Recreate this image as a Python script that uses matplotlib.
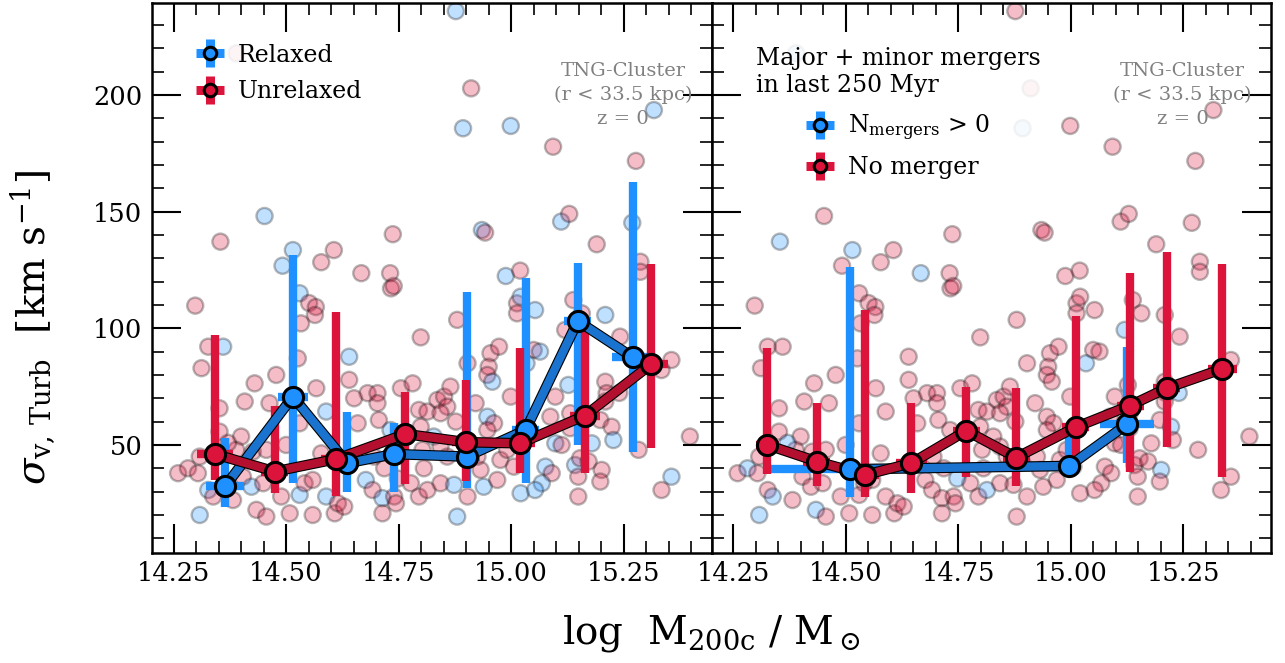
import numpy as np
import matplotlib
matplotlib.use('Agg')
import matplotlib.pyplot as plt
from matplotlib.ticker import MultipleLocator, FormatStrFormatter
from matplotlib.legend_handler import HandlerErrorbar
from matplotlib.container import ErrorbarContainer
import matplotlib.patheffects as pe

plt.rcParams['font.family'] = ['DejaVu Serif']
plt.rcParams['mathtext.fontset'] = 'dejavuserif'

# ---------------- individual clusters ----------------
mass = [14.877, 14.390, 14.911, 14.893, 14.999, 15.093, 15.277, 15.317, 14.452, 14.354,
        14.515, 14.492, 14.578, 14.606, 14.667, 14.731, 14.737, 14.935, 14.942, 14.988,
        15.020, 15.111, 15.129, 15.190, 15.269, 15.287, 15.287, 14.298, 14.530, 14.551,
        14.566, 14.564, 14.533, 14.327, 14.360, 14.312, 14.526, 14.430, 14.478, 14.567,
        14.408, 14.463, 14.352, 14.589, 14.530, 14.500, 14.352, 14.400, 14.389, 14.426,
        14.456, 14.308, 14.260, 14.282, 14.304, 14.327, 14.338, 14.382, 14.404, 14.423,
        14.449, 14.434, 14.456, 14.308, 14.489, 14.508, 14.530, 14.541, 14.559, 14.559,
        14.589, 14.608, 14.615, 14.578, 14.371, 14.733, 14.739, 15.013, 15.013, 15.021,
        14.880, 14.799, 14.640, 14.903, 14.954, 14.973, 14.950, 14.947, 14.958, 14.999,
        14.640, 14.651, 14.681, 14.703, 14.703, 14.755, 14.781, 14.795, 14.814, 14.836,
        14.851, 14.858, 14.865, 14.877, 14.843, 14.947, 14.962, 14.921, 14.659, 14.706,
        14.732, 14.799, 14.828, 14.843, 14.858, 14.803, 14.806, 14.695, 14.718, 14.677,
        14.692, 14.714, 14.740, 14.744, 14.714, 14.777, 14.795, 14.814, 14.843, 14.873,
        14.880, 14.903, 14.939, 14.969, 14.976, 14.932, 15.021, 14.925, 14.629, 15.006,
        14.991, 14.947, 14.748, 15.138, 15.053, 15.209, 15.157, 15.120, 15.242, 15.050,
        15.064, 15.356, 15.334, 15.127, 15.098, 15.209, 15.212, 15.209, 15.087, 15.131,
        15.131, 15.198, 15.223, 15.227, 15.098, 15.112, 15.179, 15.283, 15.397, 15.142,
        15.153, 15.172, 15.149, 15.201, 15.198, 15.076, 15.090, 15.068, 15.053, 15.149,
        15.356, 15.334, 15.034, 15.240]
sigma = [235.9, 217.8, 202.8, 185.7, 186.7, 177.8, 171.7, 193.5, 148.1, 137.1,
         133.5, 126.8, 128.3, 133.5, 123.6, 123.6, 140.3, 142.1, 141.0, 122.4,
         124.7, 145.7, 149.0, 136.0, 145.2, 128.5, 124.2, 109.7, 115.0, 110.8,
         109.1, 105.7, 102.1, 92.1, 92.1, 82.9, 87.1, 76.4, 80.0, 74.3,
         68.6, 67.9, 65.7, 64.3, 59.3, 50.0, 55.7, 53.6, 47.9, 47.1,
         47.9, 45.0, 37.9, 40.0, 37.9, 30.7, 27.9, 26.4, 36.4, 32.1,
         33.6, 22.2, 19.3, 20.0, 27.9, 20.7, 28.6, 33.6, 35.0, 20.0,
         27.9, 20.7, 25.0, 46.4, 50.9, 117.1, 118.1, 110.7, 106.4, 113.5,
         103.6, 96.1, 87.8, 85.0, 89.3, 92.1, 83.5, 80.0, 77.1, 70.7,
         77.9, 70.0, 72.2, 72.2, 67.9, 74.3, 76.4, 65.0, 64.3, 69.3,
         70.7, 66.4, 75.0, 60.0, 63.6, 62.1, 59.3, 67.9, 59.3, 60.7,
         56.4, 57.8, 53.6, 49.3, 45.0, 47.9, 40.0, 45.0, 40.0, 35.0,
         30.7, 27.2, 27.9, 25.0, 20.7, 33.6, 27.9, 30.7, 33.6, 32.9,
         19.3, 27.9, 32.1, 35.0, 43.6, 39.3, 29.3, 45.0, 23.6, 40.7,
         47.9, 56.4, 35.6, 112.1, 107.8, 105.7, 106.4, 99.3, 96.4, 90.7,
         90.0, 86.4, 82.1, 75.7, 70.7, 77.1, 72.2, 68.6, 62.1, 63.6,
         57.2, 60.7, 57.8, 52.1, 50.7, 50.0, 50.7, 47.9, 53.6, 41.4,
         44.3, 42.9, 36.4, 39.3, 34.3, 40.7, 37.9, 33.6, 30.7, 27.9,
         36.4, 30.7, 85.0, 72.3]
relaxed = [1, 0, 0, 1, 1, 0, 0, 1, 1, 0,
           1, 1, 0, 0, 0, 0, 0, 1, 0, 1,
           0, 1, 0, 0, 1, 0, 0, 0, 1, 0,
           0, 0, 0, 0, 1, 0, 0, 0, 0, 0,
           0, 0, 0, 1, 0, 0, 0, 0, 0, 0,
           0, 0, 0, 0, 0, 1, 0, 0, 0, 1,
           0, 0, 0, 1, 0, 0, 1, 0, 0, 0,
           1, 0, 0, 0, 0, 0, 0, 0, 0, 1,
           0, 0, 1, 0, 0, 0, 0, 0, 1, 0,
           0, 0, 0, 0, 0, 0, 0, 0, 0, 0,
           0, 0, 0, 0, 0, 1, 0, 0, 0, 0,
           1, 0, 1, 0, 0, 0, 0, 0, 0, 1,
           0, 1, 0, 0, 0, 0, 0, 0, 0, 1,
           1, 0, 1, 0, 0, 0, 1, 0, 0, 0,
           0, 0, 0, 0, 1, 1, 0, 0, 0, 0,
           1, 0, 0, 1, 0, 0, 0, 0, 0, 0,
           0, 0, 0, 1, 1, 0, 1, 0, 0, 1,
           0, 0, 0, 0, 0, 1, 0, 1, 1, 0,
           1, 0, 1, 0]
merger = [0, 1, 0, 1, 0, 0, 0, 0, 0, 1,
          1, 0, 0, 0, 1, 0, 0, 0, 0, 0,
          0, 0, 0, 0, 0, 0, 0, 0, 0, 0,
          0, 0, 0, 0, 0, 0, 0, 0, 0, 0,
          0, 0, 0, 0, 0, 0, 0, 0, 0, 0,
          0, 0, 0, 1, 0, 0, 1, 0, 0, 0,
          0, 1, 0, 1, 0, 0, 0, 0, 0, 0,
          0, 0, 0, 0, 1, 0, 0, 0, 0, 0,
          0, 0, 0, 0, 0, 0, 0, 0, 0, 0,
          0, 0, 0, 0, 0, 0, 0, 0, 0, 0,
          0, 0, 0, 0, 0, 0, 0, 0, 0, 0,
          0, 0, 0, 0, 0, 0, 0, 0, 0, 0,
          0, 0, 0, 0, 0, 0, 0, 1, 0, 0,
          0, 0, 0, 0, 0, 0, 0, 0, 0, 0,
          0, 0, 1, 0, 0, 0, 0, 1, 0, 0,
          0, 0, 0, 0, 0, 0, 0, 0, 0, 0,
          0, 0, 1, 0, 0, 0, 0, 0, 0, 0,
          0, 0, 0, 1, 0, 0, 0, 0, 0, 0,
          0, 0, 1, 1]

# ---------------- binned medians: left panel ----------------
rel_x = [14.365, 14.515, 14.636, 14.740, 14.901, 15.032, 15.148, 15.270]
rel_y = [32.4, 70.7, 42.2, 46.1, 45.0, 56.4, 103.1, 87.6]
rel_lo = [23.6, 33.6, 30.0, 30.0, 31.5, 33.6, 50.0, 46.9]
rel_hi = [52.9, 131.4, 64.3, 59.3, 115.7, 121.4, 127.8, 162.6]
rel_xerr = [0.042, 0.034, 0.025, 0.025, 0.030, 0.030, 0.030, 0.047]

unr_x = [14.343, 14.475, 14.610, 14.765, 14.899, 15.020, 15.164, 15.311]
unr_y = [46.0, 38.6, 43.9, 54.7, 51.2, 50.7, 62.6, 84.6]
unr_lo = [35.0, 29.6, 28.2, 33.2, 34.7, 37.9, 38.1, 48.6]
unr_hi = [97.1, 66.7, 107.1, 72.8, 77.9, 91.7, 102.8, 127.5]
unr_xerr = [0.040, 0.030, 0.032, 0.025, 0.030, 0.033, 0.033, 0.038]

# ---------------- binned medians: right panel ----------------
mrg_x = [14.510, 14.997, 15.126]
mrg_y = [39.6, 41.0, 59.0]
mrg_lo = [27.9, 37.0, 42.2]
mrg_hi = [126.1, 53.6, 91.9]
mrg_xerr = [0.177, 0.020, 0.060]

nom_x = [14.326, 14.436, 14.544, 14.646, 14.768, 14.879, 15.011, 15.132, 15.213, 15.337]
nom_y = [50.0, 42.9, 37.2, 42.2, 56.1, 44.6, 57.6, 66.9, 74.3, 82.6]
nom_lo = [37.6, 32.4, 27.6, 29.6, 36.4, 32.4, 39.3, 38.6, 49.3, 36.4]
nom_hi = [91.4, 68.1, 107.8, 68.1, 75.0, 74.3, 105.3, 123.8, 132.6, 127.5]
nom_xerr = [0.026, 0.030, 0.030, 0.035, 0.030, 0.030, 0.030, 0.030, 0.030, 0.033]

BLUE = '#1e90ff'
RED = '#dc143c'
BLUE_LINE = '#1a74cf'
RED_LINE = '#b3102f'

fig = plt.figure(figsize=(12.85, 6.63), dpi=100)
L, R, B, T = 152 / 1285, 1271 / 1285, 1 - 553 / 663, 1 - 2.7 / 663
W = (R - L) / 2
ax1 = fig.add_axes([L, B, W, T - B])
ax2 = fig.add_axes([L + W, B, W, T - B])


def style(ax, ylabels):
    ax.set_xlim(14.202, 15.445)
    ax.set_ylim(3.7, 239.5)
    ax.xaxis.set_major_locator(MultipleLocator(0.25))
    ax.xaxis.set_minor_locator(MultipleLocator(0.05))
    ax.yaxis.set_major_locator(MultipleLocator(50))
    ax.yaxis.set_minor_locator(MultipleLocator(10))
    ax.xaxis.set_major_formatter(FormatStrFormatter('%.2f'))
    ax.tick_params(which='both', direction='in', top=True, right=True)
    ax.tick_params(which='major', length=21, width=1.5, labelsize=18.5)
    ax.tick_params(axis='y', which='major', pad=7)
    ax.tick_params(axis='x', which='major', pad=6)
    ax.tick_params(which='minor', length=8.5, width=1.2)
    if not ylabels:
        ax.tick_params(axis='y', labelleft=False)
    for s in ax.spines.values():
        s.set_linewidth(1.8)


def panel(ax, flags, sets):
    cols = [BLUE if f else RED for f in flags]
    ax.scatter(mass, sigma, c=cols, s=135, alpha=0.28, edgecolors='k',
               linewidths=1.7, zorder=1)
    for (x, y, lo, hi, xe, c, lc) in sets:
        x = np.array(x); y = np.array(y)
        xe = np.array(xe)
        ax.errorbar(x, y, yerr=[y - np.array(lo), np.array(hi) - y], xerr=[xe, xe],
                    fmt='none', ecolor=c, elinewidth=6, capsize=0, zorder=2)
    for (x, y, lo, hi, xe, c, lc) in sets:
        ax.plot(x, y, color=lc, lw=6, solid_joinstyle='round', zorder=3,
                path_effects=[pe.Stroke(linewidth=7.6, foreground='k'), pe.Normal()])
    for (x, y, lo, hi, xe, c, lc) in sets:
        ax.plot(x, y, 'o', ms=14.5, mfc=c, mec='k', mew=2.2, zorder=4)


def handle(ax, c):
    return ax.errorbar([np.nan], [np.nan], xerr=[[1], [1]], yerr=[[1], [1]], fmt='o',
                       ms=9, mfc=c, mec='k', mew=2.2, ecolor=c, elinewidth=6.5, capsize=0)


style(ax1, True)
style(ax2, False)

panel(ax1, relaxed, [(rel_x, rel_y, rel_lo, rel_hi, rel_xerr, BLUE, BLUE_LINE),
                     (unr_x, unr_y, unr_lo, unr_hi, unr_xerr, RED, RED_LINE)])
panel(ax2, merger, [(mrg_x, mrg_y, mrg_lo, mrg_hi, mrg_xerr, BLUE, BLUE_LINE),
                    (nom_x, nom_y, nom_lo, nom_hi, nom_xerr, RED, RED_LINE)])

hm = {ErrorbarContainer: HandlerErrorbar(xerr_size=0.6)}
h1 = handle(ax1, BLUE)
h2 = handle(ax1, RED)
leg1 = ax1.legend([h1, h2], ['Relaxed', 'Unrelaxed'], loc='upper left',
                  bbox_to_anchor=(0.062, 0.943), borderaxespad=0, fontsize=17,
                  handlelength=1.15, handletextpad=0.6, labelspacing=0.58,
                  frameon=True, framealpha=0.85, edgecolor='none', fancybox=False,
                  handler_map=hm)
leg1.set_zorder(10)

h3 = handle(ax2, BLUE)
h4 = handle(ax2, RED)
leg2 = ax2.legend([h3, h4], [r'$\mathrm{N_{mergers}}$ > 0', 'No merger'], loc='upper left',
                  bbox_to_anchor=(0.062, 0.937), borderaxespad=0, fontsize=17,
                  title='Major + minor mergers\nin last 250 Myr', title_fontsize=17,
                  handlelength=1.15, handletextpad=0.6, labelspacing=0.55,
                  frameon=True, framealpha=0.85, edgecolor='none', fancybox=False,
                  handler_map=hm)
leg2.get_title().set_multialignment('left')
leg2.get_title().set_linespacing(1.25)
leg2._legend_box.sep = 11
leg2.set_zorder(10)

for ax in (ax1, ax2):
    ax.text(0.842, 0.893, 'TNG-Cluster\n(r < 33.5 kpc)\nz = 0', transform=ax.transAxes,
            ha='center', va='top', fontsize=14, color='#808080', linespacing=1.42,
            zorder=11)

fig.text(33 / 1285, 1 - 328 / 663, r'$\sigma_{\rm v,\,Turb}$  [km s$^{-1}$]', rotation=90,
         ha='center', va='center', fontsize=28)
fig.text(711 / 1285, 1 - 633 / 663, r'log  M$_{\rm 200c}$ / M$_\odot$',
         ha='center', va='center', fontsize=28)

fig.savefig('out.png', dpi=100)
